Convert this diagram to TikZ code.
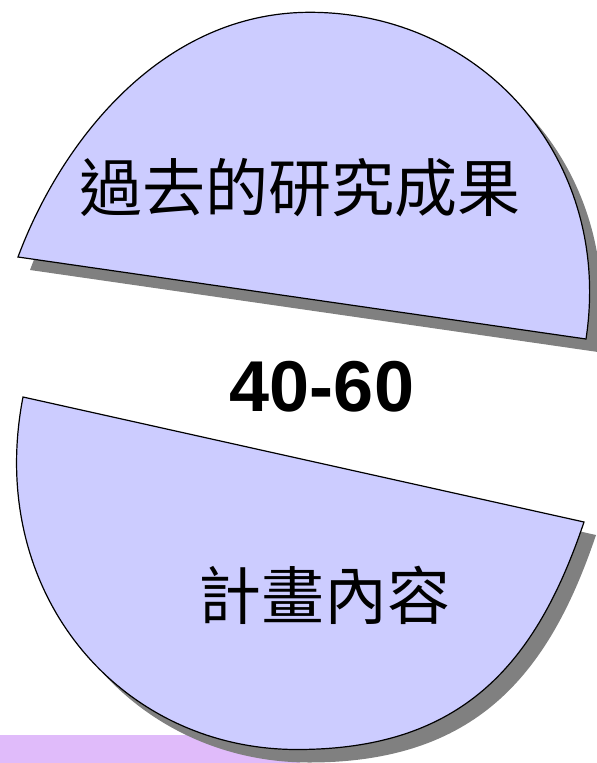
\documentclass[tikz,border=0pt]{standalone}
\usepackage{fontspec}
\setmainfont{Liberation Sans}
\newfontfamily\cjk{Noto Sans CJK TC}
\usetikzlibrary{positioning}

\definecolor{slicefill}{RGB}{204,204,255}
\definecolor{sliceshadow}{RGB}{128,128,128}
\definecolor{barlilac}{RGB}{224,187,250}

%% outlines of the two pieces, in pixels of the slide
\def\pastslice{(18,257) .. controls (60,144) and (160,12.3) .. (310,12.3) .. controls (482,12.3) and (613.3,158.8) .. (586,339) -- cycle}
\def\planslice{(23,397) .. controls (-15,593) and (120,749.5) .. (297,749.5) .. controls (462,749.5) and (536,664.5) .. (584,522) -- cycle}

\begin{document}
\begin{tikzpicture}[x=1pt, y=-1pt]
			\tikzstyle{slice}=[draw=black, line width=1.2pt, fill=slicefill, line join=miter]
			\tikzstyle{shadow}=[fill=sliceshadow, draw=none]
			\tikzstyle{slicelabel}=[inner sep=0pt, text=black, font=\cjk\fontsize{63}{63}\selectfont]
			\tikzstyle{ratiolabel}=[inner sep=0pt, text=black, font=\bfseries\fontsize{72}{72}\selectfont]
			
			\useasboundingbox (0,0) rectangle (597,763);
			
			%% bar at the foot of the slide
			\fill [barlilac] (0,735) rectangle (300,763);
			
			%% shadows
			\begin{scope}[shift={(12,13)}]
			\path [shadow] \pastslice;
			\path [shadow] \planslice;
			\end{scope}
			
			\path [slice] \pastslice;
			\path [slice] \planslice;
			
			\node (past) at (300,188) [slicelabel] {過去的研究成果};
			\node (plan) at (324,595) [slicelabel] {計畫內容};
			\node (ratio) at (322,387) [ratiolabel] {40-60};
\end{tikzpicture}
\end{document}
